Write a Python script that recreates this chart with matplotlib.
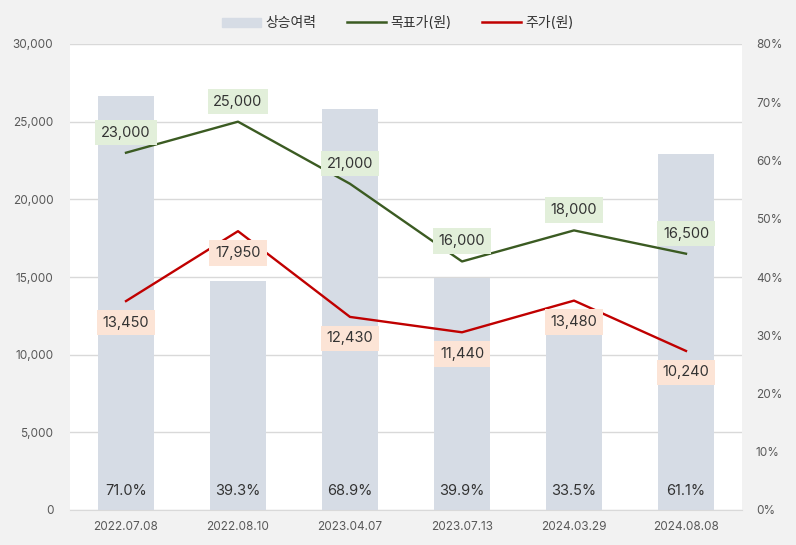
import matplotlib.pyplot as plt
from matplotlib.patches import Patch
from matplotlib.lines import Line2D
import numpy as np

plt.rcParams['font.family'] = ['Inter', 'Noto Sans CJK KR', 'DejaVu Sans']

dates = ['2022.07.08', '2022.08.10', '2023.04.07', '2023.07.13', '2024.03.29', '2024.08.08']
upside = [71.0, 39.3, 68.9, 39.9, 33.5, 61.1]
target = [23000, 25000, 21000, 16000, 18000, 16500]
price = [13450, 17950, 12430, 11440, 13480, 10240]

bar_color = '#d6dce5'
target_color = '#3b5b22'
price_color = '#c00000'
tick_color = '#595959'
text_color = '#333333'

x = np.arange(len(dates))

fig = plt.figure(figsize=(7.96, 5.45), dpi=100, facecolor='#f2f2f2')
ax = fig.add_axes([70 / 796, 35 / 545, 672 / 796, 466 / 545])
ax2 = ax.twinx()

# bars on the secondary axis, drawn behind the lines
ax2.set_zorder(0)
ax.set_zorder(1)
ax.patch.set_visible(False)
ax2.patch.set_visible(True)
ax2.set_facecolor('white')

ax2.bar(x, [u / 100 for u in upside], width=0.5, color=bar_color, zorder=2)
ax2.set_ylim(0, 0.8)
for v in range(0, 30001, 5000):
    ax2.axhline(v / 30000 * 0.8, color='#d9d9d9', lw=1, zorder=1)
for xi, u in zip(x, upside):
    ax2.text(xi, 0.033, f'{u:.1f}%', ha='center', va='center', fontsize=10.5, color=text_color, zorder=3)

ax.plot(x, target, color=target_color, lw=1.7, zorder=3)
ax.plot(x, price, color=price_color, lw=1.7, zorder=3)
ax.set_ylim(0, 30000)
ax.set_xlim(-0.5, len(dates) - 0.5)

for xi, v in zip(x, target):
    ax.annotate(f'{v:,}', (xi, v), xytext=(0, 14.5), textcoords='offset points',
                ha='center', va='center', fontsize=10.5, color=text_color,
                bbox=dict(boxstyle='square,pad=0.4', fc='#e2efda', ec='none'), zorder=4)
for xi, v in zip(x, price):
    ax.annotate(f'{v:,}', (xi, v), xytext=(0, -15.5), textcoords='offset points',
                ha='center', va='center', fontsize=10.5, color=text_color,
                bbox=dict(boxstyle='square,pad=0.4', fc='#fce4d6', ec='none'), zorder=4)

ax.set_xticks(x)
ax.set_xticklabels(dates)
ax.set_yticks(range(0, 30001, 5000))
ax.set_yticklabels([f'{v:,}' for v in range(0, 30001, 5000)])
ax2.set_yticks(np.arange(0, 0.81, 0.1))
ax2.set_yticklabels([f'{int(round(p * 100))}%' for p in np.arange(0, 0.81, 0.1)])

for a in (ax, ax2):
    for s in a.spines.values():
        s.set_visible(False)
    a.tick_params(length=0, labelsize=8.5, colors=tick_color)
ax.tick_params(axis='x', pad=8)
ax.tick_params(axis='y', pad=12)
ax2.tick_params(axis='y', pad=10)
ax2.spines['bottom'].set_visible(True)
ax2.spines['bottom'].set_color('#d9d9d9')

handles = [Patch(color=bar_color, label='상승여력'),
           Line2D([], [], color=target_color, lw=1.8, label='목표가(원)'),
           Line2D([], [], color=price_color, lw=1.8, label='주가(원)')]
fig.legend(handles=handles, loc='center', bbox_to_anchor=(0.5, 1 - 23 / 545), ncol=3,
           frameon=False, fontsize=10, handlelength=2.8, handleheight=0.6,
           columnspacing=2.2, handletextpad=0.3, labelcolor=text_color)

fig.savefig('out.png', dpi=100, facecolor=fig.get_facecolor())
